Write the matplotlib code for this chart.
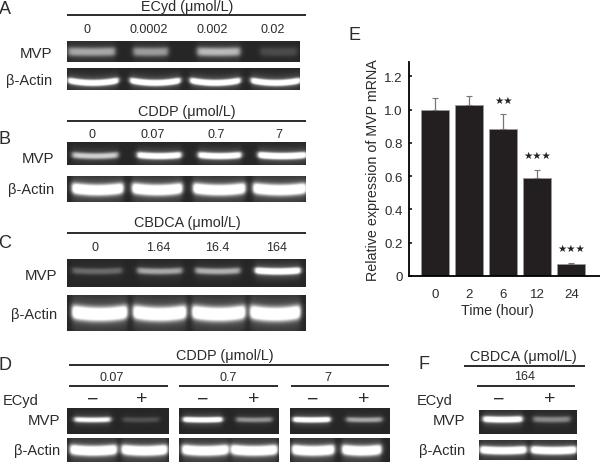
#!/usr/bin/env python3
import matplotlib
matplotlib.use("Agg")
import matplotlib.pyplot as plt
import numpy as np

plt.rcParams['font.family'] = ['Liberation Sans', 'DejaVu Sans']

W, H = 600, 464
TXT = '#2b2b2b'

# panel E
hours = ['0', '2', '6', '12', '24']
expression = [1.0, 1.03, 0.88, 0.59, 0.07]
expression_err = [0.07, 0.05, 0.09, 0.045, 0.008]
stars = ['', '', '★★', '★★★', '★★★']
y_ticks = [0, 0.2, 0.4, 0.6, 0.8, 1.0, 1.2]
y_tick_labels = ['0', '0.2', '0.4', '0.6', '0.8', '1.0', '1.2']

# band brightness for each lane
a_labels = ['0', '0.0002', '0.002', '0.02']
a_mvp = [0.42, 0.38, 0.48, 0.12]
a_actin = [1.0, 1.0, 1.0, 1.0]
b_labels = ['0', '0.07', '0.7', '7']
b_mvp = [0.55, 0.9, 0.9, 1.0]
b_actin = [1.0, 1.0, 1.0, 1.0]
c_labels = ['0', '1.64', '16.4', '164']
c_mvp = [0.22, 0.42, 0.45, 1.0]
c_actin = [1.0, 1.0, 1.0, 1.0]
d_labels = ['0.07', '0.7', '7']
d_mvp = [[0.75, 0.14], [0.95, 0.35], [0.95, 0.42]]
d_actin = [[1.0, 1.0], [1.0, 1.0], [1.0, 1.0]]
f_label = '164'
f_mvp = [0.95, 0.32]
f_actin = [1.0, 1.0]


fig = plt.figure(figsize=(W / 100, H / 100), dpi=100, facecolor='white')

bg = fig.add_axes([0, 0, 1, 1])
bg.set_xlim(0, W)
bg.set_ylim(H, 0)
bg.axis('off')


def px_axes(x0, y0, x1, y1):
    return fig.add_axes([x0 / W, 1 - y1 / H, (x1 - x0) / W, (y1 - y0) / H])


def gel(x0, y0, x1, y1, lanes, values, thick, curve=1.5, yc=0.5):
    # one strip of gel, bands rendered into a grey image
    xs = np.arange(x0, x1, 0.5)
    ys = np.arange(y0, y1, 0.5)
    xx, yy = np.meshgrid(xs, ys)
    img = np.full(xx.shape, 0.15)
    mid = y0 + (y1 - y0) * yc
    for (l, r), v in zip(lanes, values):
        c = (l + r) / 2
        u = (xx - c) / ((r - l) / 2)
        side = 1 / (1 + np.exp((np.abs(xx - c) - (r - l) / 2) / 1.3))
        centre = mid - curve * (u ** 2 - 0.4)
        core = np.exp(-(((yy - centre) / thick) ** 2) ** 1.4)
        glow = np.exp(-((yy - centre) / (thick * 2.4)) ** 2)
        img = img + side * (v * 1.0 * core + v * 0.22 * glow)
    ax = px_axes(x0, y0, x1, y1)
    ax.imshow(np.clip(img, 0, 1), cmap='gray', vmin=0, vmax=1, aspect='auto',
              interpolation='bilinear')
    ax.axis('off')


def hline(x0, x1, y, lw=1.3):
    bg.plot([x0, x1], [y, y], color='#1a1a1a', lw=lw, solid_capstyle='butt')


def put(x, y, s, size=9, ha='center'):
    bg.text(x, y, s, fontsize=size, ha=ha, va='center', color=TXT)


# panels A, B, C
put(5, 10, 'A', 13)
put(187, 7, 'ECyd (μmol/L)', 10.4)
hline(67, 306, 16)
for x, s in zip([87, 149, 212, 273], a_labels):
    put(x, 30, s)
put(52, 54, 'MVP', 10.8, 'right')
put(52, 81, 'β-Actin', 10.5, 'right')
gel(67, 42, 300, 63, [(68, 115), (133, 168), (197, 240), (260, 297)], a_mvp, 4.5, 0.5, 0.5)
gel(67, 69, 300, 91, [(68, 118), (130, 180), (190, 240), (251, 300)], a_actin, 3.0, 2.5, 0.62)

put(5, 140, 'B', 13)
put(187, 112, 'CDDP (μmol/L)', 10.4)
hline(67, 306, 122)
for x, s in zip([92, 153, 216, 279], b_labels):
    put(x, 135, s)
put(54, 159, 'MVP', 10.8, 'right')
put(54, 190, 'β-Actin', 10.5, 'right')
gel(67, 143, 306, 166, [(72, 118), (137, 181), (198, 241), (258, 306)], b_mvp, 3.2, 1.2, 0.58)
gel(67, 177, 306, 203, [(72, 123), (132, 182), (193, 245), (253, 306)], b_actin, 5.5, 2.0, 0.5)

put(5, 244, 'C', 13)
put(187, 223, 'CBDCA (μmol/L)', 10.4)
hline(67, 306, 234)
for x, s in zip([95, 158, 217, 277], c_labels):
    put(x, 248, s)
put(57, 276, 'MVP', 10.8, 'right')
put(57, 315, 'β-Actin', 10.5, 'right')
gel(67, 260, 306, 288, [(72, 122), (137, 182), (195, 240), (255, 300)], c_mvp, 3.2, 1.0, 0.42)
gel(67, 296, 306, 332, [(72, 127), (133, 186), (192, 245), (250, 300)], c_actin, 7.0, 2.5, 0.5)

# panel D
put(5, 366, 'D', 13)
put(225, 356, 'CDDP (μmol/L)', 10.4)
hline(69, 389, 366)
put(3, 401, 'ECyd', 10.5, 'left')
put(60, 421, 'MVP', 10.8, 'right')
put(60, 451, 'β-Actin', 10.5, 'right')
d_groups = [(67, 168, 112, 93, 142, (69, 168)),
            (179, 279, 228, 203, 254, (179, 278)),
            (290, 390, 328, 313, 364, (291, 389))]
d_mvp_lanes = [[(74, 110), (122, 158)], [(183, 222), (236, 272)], [(293, 330), (346, 382)]]
d_actin_lanes = [[(70, 116), (121, 166)], [(182, 228), (231, 277)], [(292, 334), (342, 381)]]
for i, (x0, x1, xl, xm, xp, ln) in enumerate(d_groups):
    put(xl, 378, d_labels[i])
    hline(ln[0], ln[1], 387)
    put(xm, 400, '−', 14)
    put(xp, 400, '+', 14)
    gel(x0, 409, x1, 435, d_mvp_lanes[i], d_mvp[i], 2.6, 0.5, 0.44)
    gel(x0, 439, x1, 463, d_actin_lanes[i], d_actin[i], 5.0, 1.5, 0.5)

# panel F
put(424, 365, 'F', 13)
put(523, 357, 'CBDCA (μmol/L)', 10.4)
hline(464, 585, 367)
put(525, 377, f_label)
hline(477, 575, 387)
put(417, 401, 'ECyd', 10.5, 'left')
put(465, 421, 'MVP', 10.8, 'right')
put(465, 451, 'β-Actin', 10.5, 'right')
put(499, 400, '−', 14)
put(550, 400, '+', 14)
gel(479, 411, 577, 435, [(483, 522), (533, 570)], f_mvp, 3.0, 0.6, 0.38)
gel(479, 441, 577, 461, [(480, 526), (531, 576)], f_actin, 3.8, 1.0, 0.5)

# panel E, the bar chart
put(354, 36, 'E', 13)
ax = px_axes(408.5, 63, 600, 277)
ax.patch.set_alpha(0)
pos = np.arange(len(hours))
ax.bar(pos, expression, width=0.82, color='#231f20', edgecolor='#9a9a9a', linewidth=0.6)
ax.errorbar(pos, expression, yerr=[np.zeros(len(pos)), expression_err], fmt='none',
            ecolor='#777777', elinewidth=0.9, capsize=2, capthick=0.8)
for p, v, e, s in zip(pos, expression, expression_err, stars):
    if s:
        ax.text(p, v + e + 0.09, s, fontsize=7.5, ha='center', va='center', color='#222222')
ax.set_xlim(-0.78, 4.84)
ax.set_ylim(0, 214 / 166.5)
ax.spines['top'].set_visible(False)
ax.spines['right'].set_visible(False)
ax.spines['left'].set_linewidth(1.3)
ax.spines['bottom'].set_linewidth(1.3)
ax.set_yticks(y_ticks)
ax.set_yticklabels(y_tick_labels, fontsize=9.5, color=TXT)
ax.set_xticks(pos)
ax.set_xticklabels(hours, fontsize=9.5, color=TXT)
ax.tick_params(axis='y', length=2, width=1.1, direction='in', pad=4)
ax.tick_params(axis='x', length=0, pad=9)
ax.set_xlabel('Time (hour)', fontsize=10.2, color=TXT, labelpad=2, x=0.462)
ax.set_ylabel('Relative expression of MVP mRNA', fontsize=10.3, color=TXT, labelpad=3)

fig.savefig('out.png', dpi=100)
